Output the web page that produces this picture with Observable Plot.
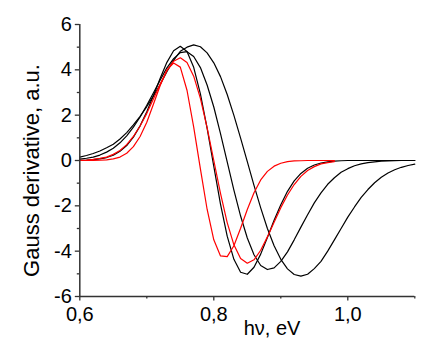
<!DOCTYPE html>
<html><head><meta charset="utf-8">
<script src="https://cdn.jsdelivr.net/npm/d3@7"></script>
<script src="https://cdn.jsdelivr.net/npm/@observablehq/plot@0.6"></script>
<style>html,body{margin:0;padding:0;background:#fff} #chart svg{display:block}</style>
</head><body><div id="chart"></div>
<script>
const hv = [0.60,0.61,0.62,0.63,0.64,0.65,0.66,0.67,0.68,0.69,0.70,0.71,0.72,0.73,0.74,0.75,0.76,0.77,0.78,0.79,0.80,0.81,0.82,0.83,0.84,0.85,0.86,0.87,0.88,0.89,0.90,0.91,0.92,0.93,0.94,0.95,0.96,0.97,0.98,0.99,1.00,1.01,1.02,1.03,1.04,1.05,1.06,1.07,1.08,1.09,1.10];
const blackA = [0.15,0.22,0.31,0.42,0.56,0.72,0.95,1.23,1.57,1.95,2.38,2.85,3.35,3.92,4.42,4.82,5.00,5.10,5.02,4.75,4.31,3.70,2.91,1.99,0.99,-0.05,-1.10,-2.09,-3.00,-3.76,-4.36,-4.78,-5.03,-5.10,-5.02,-4.77,-4.45,-4.00,-3.50,-3.00,-2.50,-2.05,-1.63,-1.28,-0.98,-0.74,-0.55,-0.41,-0.30,-0.22,-0.16];
const blackB = [0.01,0.02,0.04,0.07,0.13,0.23,0.41,0.66,1.03,1.53,2.15,2.87,3.63,4.33,4.84,5.04,4.81,4.11,2.94,1.43,-0.26,-1.92,-3.34,-4.36,-4.93,-5.02,-4.71,-4.13,-3.40,-2.64,-1.95,-1.36,-0.90,-0.57,-0.34,-0.20,-0.11,-0.06,-0.03,-0.01,0,0,0,0,0,0,0,0,0,0,0];
const blackC = [0.06,0.10,0.15,0.24,0.37,0.54,0.78,1.09,1.47,1.92,2.44,2.99,3.55,4.09,4.49,4.76,4.80,4.59,4.10,3.33,2.36,1.19,-0.06,-1.31,-2.45,-3.42,-4.16,-4.63,-4.81,-4.74,-4.45,-4.03,-3.50,-2.94,-2.39,-1.87,-1.43,-1.05,-0.76,-0.52,-0.36,-0.23,-0.15,-0.09,-0.06,-0.03,-0.02,-0.01,0,0,0];
const red1 = [0,0,0,0.01,0.03,0.07,0.15,0.32,0.61,1.06,1.69,2.49,3.31,4.00,4.30,4.12,3.10,1.47,-0.37,-2.15,-3.50,-4.21,-4.24,-3.76,-2.99,-2.16,-1.42,-0.86,-0.48,-0.25,-0.12,-0.05,-0.02,-0.01,0,0,0,0,0];
const red2 = [0.01,0.02,0.05,0.09,0.15,0.27,0.44,0.70,1.06,1.52,2.08,2.72,3.37,3.96,4.38,4.53,4.32,3.72,2.74,1.45,0,-1.45,-2.74,-3.72,-4.32,-4.53,-4.38,-3.96,-3.37,-2.72,-2.08,-1.52,-1.06,-0.70,-0.44,-0.27,-0.15,-0.09,-0.05];

const xDomain = [0.6, 1.1];
const yDomain = [-6, 6];
const xTicks = [0.6, 0.8, 1.0];
const xMinorTicks = [0.7, 0.9, 1.1];
const yTicks = [-6, -4, -2, 0, 2, 4, 6];
const yMinorTicks = [-5, -3, -1, 1, 3, 5];
const xLabel = "hν, eV";
const yLabel = "Gauss derivative, a.u.";

const blackSeries = [["A", blackA], ["B", blackB], ["C", blackC]];
const redSeries = [["R1", red1], ["R2", red2]];
const toRows = list => list.flatMap(([name, vals]) => vals.map((v, i) => ({series: name, x: hv[i], y: v})));
const blackRows = toRows(blackSeries);
const redRows = toRows(redSeries);

const axisColor = "#333";
const chart = Plot.plot({
  width: 433,
  height: 347,
  marginLeft: 79.3,
  marginRight: 18.7,
  marginTop: 24,
  marginBottom: 51,
  x: {domain: xDomain},
  y: {domain: yDomain},
  style: {fontFamily: "'Liberation Sans', Arial, sans-serif", background: "#fff", color: "#000"},
  marks: [
    Plot.line(blackRows, {x: "x", y: "y", z: "series", stroke: "#000", strokeWidth: 1.2}),
    Plot.line(redRows, {x: "x", y: "y", z: "series", stroke: "#ff0000", strokeWidth: 1.2}),
    Plot.ruleX([xDomain[0]], {stroke: axisColor, strokeWidth: 1.5}),
    Plot.ruleY([yDomain[0]], {stroke: axisColor, strokeWidth: 1.5}),
    Plot.axisX(xTicks, {tickSize: 4.5, tickPadding: 6, stroke: axisColor, strokeWidth: 1.3, fill: "#000", fontSize: 20, tickFormat: d => d.toFixed(1).replace(".", ","), label: null}),
    Plot.axisX(xMinorTicks, {tickSize: 2.5, stroke: axisColor, strokeWidth: 1.3, tickFormat: () => "", label: null}),
    Plot.axisY(yTicks, {tickSize: 4.5, tickPadding: 3.5, stroke: axisColor, strokeWidth: 1.3, fill: "#000", fontSize: 20, tickFormat: d => String(d), label: null}),
    Plot.axisY(yMinorTicks, {tickSize: 2.5, stroke: axisColor, strokeWidth: 1.3, tickFormat: () => "", label: null}),
    Plot.text([xLabel], {frameAnchor: "bottom", textAnchor: "middle", dx: 24.7, dy: 24, lineAnchor: "top", fontSize: 20, fill: "#000"}),
    Plot.text([yLabel], {frameAnchor: "left", textAnchor: "middle", rotate: -90, dx: -47.6, dy: 10, fontSize: 22, fill: "#000"})
  ]
});
document.getElementById("chart").appendChild(chart);
</script>
</body></html>
